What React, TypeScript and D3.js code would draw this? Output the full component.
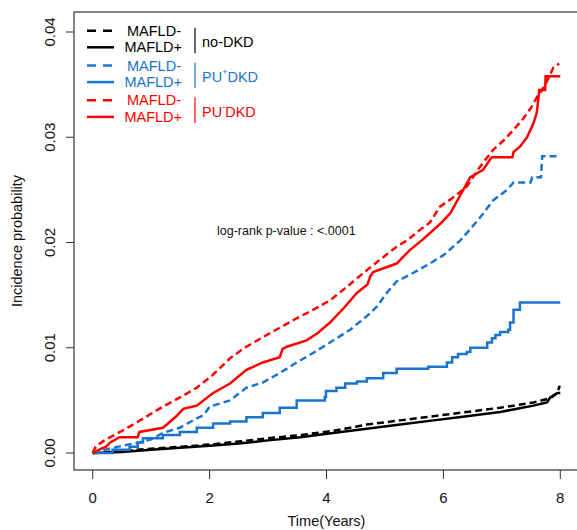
import React from "react";
import * as d3 from "d3";

// cumulative incidence: [years, probability]
const noDkdMafldNeg: [number, number][] = [
  [0, 0], [0.5, 0.0002], [1.0, 0.0004], [1.5, 0.0006], [2.0, 0.0008], [2.5, 0.0011],
  [3.0, 0.0014], [3.55, 0.0017], [4.11, 0.0021], [4.69, 0.0027], [5.26, 0.0031],
  [5.83, 0.0035], [6.4, 0.0039], [6.97, 0.0043], [7.54, 0.0048], [7.83, 0.0052],
  [7.95, 0.0057], [7.99, 0.0064],
];
const noDkdMafldPos: [number, number][] = [
  [0, 0], [0.5, 0.0001], [1.0, 0.0003], [1.5, 0.0005], [2.0, 0.0007], [2.5, 0.0009],
  [3.0, 0.0012], [3.55, 0.0015], [4.11, 0.0019], [4.69, 0.0023], [5.26, 0.0027],
  [5.83, 0.0031], [6.4, 0.0035], [6.97, 0.0039], [7.26, 0.0042], [7.54, 0.0045],
  [7.77, 0.0048], [7.83, 0.0053], [7.95, 0.0057], [8.0, 0.0057],
];
const puPosMafldNeg: [number, number][] = [
  [0, 0], [0.34, 0.0005], [0.8, 0.001], [1.0, 0.0013], [1.2, 0.0019], [1.49, 0.0024],
  [1.78, 0.0033], [1.9, 0.0036], [2.0, 0.0044], [2.35, 0.005], [2.63, 0.0062],
  [2.91, 0.0067], [3.2, 0.0076], [3.49, 0.0086], [3.77, 0.0095], [4.06, 0.0105],
  [4.4, 0.0117], [4.69, 0.013], [4.86, 0.0139], [5.03, 0.0152], [5.2, 0.0163],
  [5.48, 0.0171], [5.77, 0.018], [6.0, 0.0188], [6.29, 0.0202], [6.45, 0.0212],
  [6.63, 0.0224], [6.85, 0.024], [7.09, 0.025], [7.2, 0.0257], [7.49, 0.0257],
  [7.52, 0.0262], [7.67, 0.0262], [7.69, 0.0282], [7.96, 0.0282],
];
const puPosMafldPos: [number, number][] = [
  [0, 0], [0.34, 0.0003], [0.63, 0.0006], [0.77, 0.001], [0.86, 0.0014], [1.2, 0.0017],
  [1.49, 0.002], [1.78, 0.0024], [2.06, 0.0028], [2.35, 0.003], [2.63, 0.0034],
  [2.91, 0.0038], [3.2, 0.0043], [3.49, 0.005], [3.97, 0.0053], [3.99, 0.0059],
  [4.17, 0.0062], [4.32, 0.0066], [4.52, 0.0068], [4.69, 0.0071], [4.97, 0.0076],
  [5.2, 0.008], [5.74, 0.0082], [6.06, 0.0086], [6.15, 0.0091], [6.25, 0.0094],
  [6.4, 0.0096], [6.46, 0.01], [6.75, 0.0105], [6.83, 0.0109], [6.89, 0.0112],
  [6.97, 0.0115], [7.11, 0.0117], [7.14, 0.0124], [7.2, 0.0136], [7.31, 0.0143],
  [8.0, 0.0143],
];
const puNegMafldNeg: [number, number][] = [
  [0, 0], [0.05, 0.0006], [0.2, 0.0012], [0.4, 0.0018], [0.63, 0.0025], [0.9, 0.0034],
  [1.2, 0.0044], [1.5, 0.0053], [1.78, 0.0062], [2.05, 0.0074], [2.35, 0.009],
  [2.6, 0.01], [2.91, 0.011], [3.2, 0.0119], [3.49, 0.0128], [3.77, 0.0136],
  [4.06, 0.0145], [4.35, 0.0158], [4.63, 0.0171], [4.9, 0.0183], [5.2, 0.0196],
  [5.38, 0.0202], [5.6, 0.0212], [5.77, 0.0219], [5.94, 0.0234], [6.15, 0.0242],
  [6.4, 0.0253], [6.6, 0.027], [6.85, 0.0288], [7.05, 0.0298], [7.2, 0.0307],
  [7.37, 0.0318], [7.5, 0.0328], [7.6, 0.0338], [7.7, 0.0346], [7.78, 0.0354],
  [7.88, 0.0366], [7.98, 0.037],
];
const puNegMafldPos: [number, number][] = [
  [0, 0], [0.1, 0.0003], [0.23, 0.0006], [0.3, 0.001], [0.46, 0.0015], [0.77, 0.0015],
  [0.8, 0.002], [1.2, 0.0024], [1.29, 0.0028], [1.45, 0.0036], [1.55, 0.0042],
  [1.78, 0.0045], [2.06, 0.0057], [2.35, 0.0066], [2.63, 0.0079], [2.91, 0.0086],
  [3.2, 0.0091], [3.25, 0.0099], [3.32, 0.0101], [3.66, 0.0107], [3.85, 0.0114],
  [4.06, 0.0124], [4.3, 0.0138], [4.52, 0.0152], [4.7, 0.016], [4.75, 0.0168],
  [4.8, 0.0172], [5.0, 0.0176], [5.2, 0.018], [5.43, 0.0193], [5.65, 0.0203],
  [5.77, 0.0209], [5.95, 0.0218], [6.12, 0.0228], [6.3, 0.0246], [6.46, 0.0262],
  [6.68, 0.0269], [6.8, 0.0279], [6.83, 0.0281], [7.18, 0.0281], [7.2, 0.0286],
  [7.31, 0.0291], [7.43, 0.03], [7.54, 0.0313], [7.6, 0.0324], [7.64, 0.0345],
  [7.74, 0.0345], [7.75, 0.0358], [8.0, 0.0358],
];

const X_TICKS = [0, 2, 4, 6, 8];
const Y_TICKS = [0, 0.01, 0.02, 0.03, 0.04];

const BLACK = "#000000";
const BLUE = "#1874CD";
const RED = "#FF0000";
const FONT = "Liberation Sans, Arial, sans-serif";

const series = [
  { data: noDkdMafldNeg, color: BLACK, dashed: true, step: false },
  { data: noDkdMafldPos, color: BLACK, dashed: false, step: false },
  { data: puPosMafldNeg, color: BLUE, dashed: true, step: false },
  { data: puPosMafldPos, color: BLUE, dashed: false, step: true },
  { data: puNegMafldNeg, color: RED, dashed: true, step: false },
  { data: puNegMafldPos, color: RED, dashed: false, step: false },
];

const legendGroups = [
  { color: BLACK, label: "no-DKD", sup: "" },
  { color: BLUE, label: "PU", sup: "+" },
  { color: RED, label: "PU", sup: "-" },
];

const WIDTH = 577;
const HEIGHT = 530;

// R style plot region: 4% padding around the data range
const xScale = d3.scaleLinear().domain([-0.32, 8.32]).range([74, 579]);
const yScale = d3.scaleLinear().domain([0, 0.04]).range([453, 32]);
const BOX = { left: 74, right: 579, top: 12, bottom: 470 };

export default function App() {
  const stepLine = d3
    .line<[number, number]>()
    .x((d) => xScale(d[0]))
    .y((d) => yScale(d[1]))
    .curve(d3.curveStepAfter);
  const plainLine = d3
    .line<[number, number]>()
    .x((d) => xScale(d[0]))
    .y((d) => yScale(d[1]));

  return (
    <svg
      width={WIDTH}
      height={HEIGHT}
      style={{ position: "absolute", left: 0, top: 0, background: "#fff" }}
      fontFamily={FONT}
    >
      {/* curves */}
      <g fill="none" strokeWidth={2.5}>
        {series.map((s, i) => (
          <path
            key={i}
            d={(s.step ? stepLine : plainLine)(s.data) || ""}
            stroke={s.color}
            strokeDasharray={s.dashed ? "7,4" : undefined}
          />
        ))}
      </g>

      {/* box */}
      <rect
        x={BOX.left}
        y={BOX.top}
        width={BOX.right - BOX.left}
        height={BOX.bottom - BOX.top}
        fill="none"
        stroke="#333"
        strokeWidth={1.2}
      />

      {/* x axis */}
      <g>
        {X_TICKS.map((t) => (
          <g key={t}>
            <line x1={xScale(t)} x2={xScale(t)} y1={BOX.bottom} y2={BOX.bottom + 9} stroke="#333" />
            <text x={xScale(t)} y={503} textAnchor="middle" fontSize={15} fill="#111">
              {t}
            </text>
          </g>
        ))}
        <text x={(BOX.left + BOX.right) / 2} y={526} textAnchor="middle" fontSize={14.5} fill="#111">
          Time(Years)
        </text>
      </g>

      {/* y axis */}
      <g>
        {Y_TICKS.map((t) => (
          <g key={t}>
            <line x1={BOX.left - 8} x2={BOX.left} y1={yScale(t)} y2={yScale(t)} stroke="#333" />
            <text
              transform={`translate(49,${yScale(t)}) rotate(-90)`}
              textAnchor="middle"
              dominantBaseline="central"
              fontSize={15}
              fill="#111"
            >
              {d3.format(".2f")(t)}
            </text>
          </g>
        ))}
        <text
          transform={`translate(17,${(BOX.top + BOX.bottom) / 2}) rotate(-90)`}
          textAnchor="middle"
          dominantBaseline="central"
          fontSize={14.5}
          fill="#111"
        >
          Incidence probability
        </text>
      </g>

      {/* legend */}
      <g fontSize={14.5}>
        {legendGroups.map((g, gi) => {
          const y0 = 30.7 + gi * 34.8;
          const y1 = y0 + 16.6;
          return (
            <g key={gi} fill={g.color}>
              <line x1={87} x2={114} y1={y0} y2={y0} stroke={g.color} strokeWidth={2.5} strokeDasharray="9,7" />
              <line x1={87} x2={114} y1={y1} y2={y1} stroke={g.color} strokeWidth={2.5} />
              <text x={181} y={y0} textAnchor="end" dominantBaseline="central">MAFLD-</text>
              <text x={182} y={y1} textAnchor="end" dominantBaseline="central">MAFLD+</text>
              <line x1={195} x2={195} y1={y0 - 3} y2={y1 + 6} stroke={g.color} strokeWidth={1.2} />
              <text x={202} y={(y0 + y1) / 2 + 3} dominantBaseline="central">
                {g.label}
                {g.sup && (
                  <tspan dy={-5} fontSize={9}>
                    {g.sup}
                  </tspan>
                )}
                {g.sup && <tspan dy={5}>DKD</tspan>}
              </text>
            </g>
          );
        })}
      </g>

      <text x={217} y={231} fontSize={12.5} dominantBaseline="central" fill="#111">
        log-rank p-value : &lt;.0001
      </text>
    </svg>
  );
}
